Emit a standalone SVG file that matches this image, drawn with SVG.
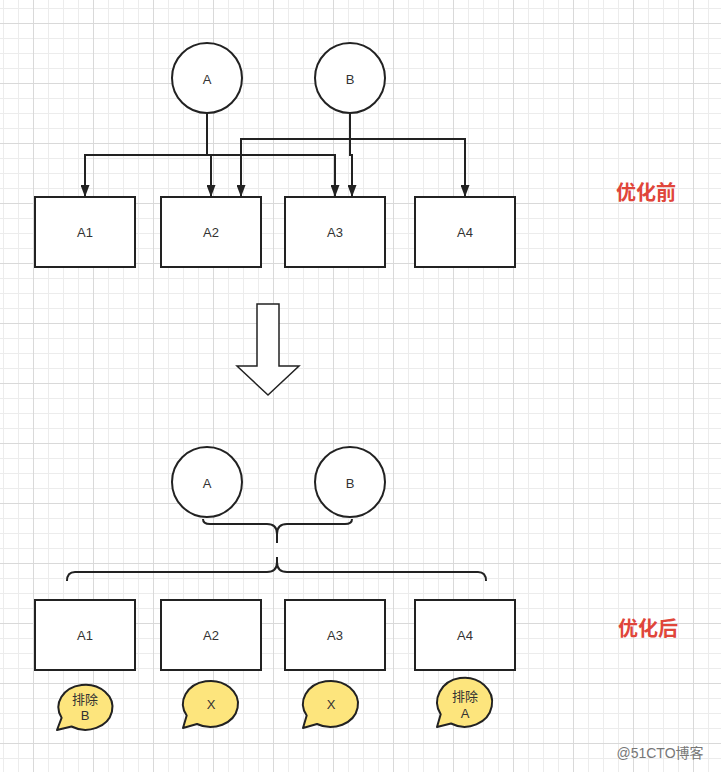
<svg xmlns="http://www.w3.org/2000/svg" width="721" height="772" viewBox="0 0 721 772">
<defs>
<pattern id="minor" x="3" y="8" width="15" height="15" patternUnits="userSpaceOnUse">
<path d="M0.5,0 V15 M0,0.5 H15" stroke="#ececec" stroke-width="1" fill="none"/>
</pattern>
<pattern id="major" x="33" y="23" width="60" height="60" patternUnits="userSpaceOnUse">
<path d="M0.5,0 V60 M0,0.5 H60" stroke="#d9d9d9" stroke-width="1" fill="none"/>
</pattern>
<marker id="arr" markerUnits="userSpaceOnUse" markerWidth="12" markerHeight="9" refX="11" refY="4.5" orient="auto">
<path d="M0,0 L12,4.5 L0,9 Z" fill="#222"/>
</marker>
<style>
.nd{fill:#fff;stroke:#222;stroke-width:2}
.lb{font-family:"Liberation Sans",Arial,sans-serif;font-size:13px;fill:#333;text-anchor:middle;dominant-baseline:central}
.cn{fill:none;stroke:#222;stroke-width:2}
.bub{fill:#fde57d;stroke:#222;stroke-width:2;stroke-linejoin:round}
.bl{font-family:"Liberation Sans","Noto Sans CJK SC",sans-serif;font-size:13px;fill:#333;text-anchor:middle;dominant-baseline:central}
.red{font-family:"Noto Sans CJK SC",sans-serif;font-size:20px;font-weight:bold;fill:#e0463a;text-anchor:middle;dominant-baseline:central}
</style>
</defs>
<rect width="721" height="772" fill="#fff"/>
<rect width="721" height="772" fill="url(#minor)"/>
<rect width="721" height="772" fill="url(#major)"/>

<g id="connectors">
<path class="cn" d="M207,113 V155 H85 V196" marker-end="url(#arr)"/>
<path class="cn" d="M207,113 V155 H211 V196" marker-end="url(#arr)"/>
<path class="cn" d="M207,155 H335 V196" marker-end="url(#arr)"/>
<path class="cn" d="M350,113 V139 H241 V196" marker-end="url(#arr)"/>
<path class="cn" d="M350,139 V155 H352 V196" marker-end="url(#arr)"/>
<path class="cn" d="M350,139 H465 V196" marker-end="url(#arr)"/>
<path class="cn" d="M203,519 Q203,524 210,524 L267,524 Q277,524 277,534 L277,543 L277,534 Q277,524 287,524 L345,524 Q352,524 352,519"/>
<path class="cn" d="M67,581 Q67,572 75,572 L267,572 Q277,572 277,562 L277,557 L277,562 Q277,572 287,572 L478,572 Q486,572 486,581"/>
</g>

<g id="topA"><circle class="nd" cx="207" cy="78" r="35"/><text class="lb" x="207" y="79">A</text></g>
<g id="topB"><circle class="nd" cx="350" cy="78" r="35"/><text class="lb" x="350" y="79">B</text></g>
<g id="topA1"><rect class="nd" x="35" y="197" width="100" height="70"/><text class="lb" x="85" y="232">A1</text></g>
<g id="topA2"><rect class="nd" x="161" y="197" width="100" height="70"/><text class="lb" x="211" y="232">A2</text></g>
<g id="topA3"><rect class="nd" x="285" y="197" width="100" height="70"/><text class="lb" x="335" y="232">A3</text></g>
<g id="topA4"><rect class="nd" x="415" y="197" width="100" height="70"/><text class="lb" x="465" y="232">A4</text></g>

<g id="bigArrow"><polygon points="257,304 279,304 279,366 299,366 268,395 237,366 257,366" fill="#fff" stroke="#222" stroke-width="1.5"/></g>

<g id="botA"><circle class="nd" cx="207" cy="482" r="35"/><text class="lb" x="207" y="483">A</text></g>
<g id="botB"><circle class="nd" cx="350" cy="482" r="35"/><text class="lb" x="350" y="483">B</text></g>
<g id="botA1"><rect class="nd" x="35" y="600" width="100" height="70"/><text class="lb" x="85" y="635">A1</text></g>
<g id="botA2"><rect class="nd" x="161" y="600" width="100" height="70"/><text class="lb" x="211" y="635">A2</text></g>
<g id="botA3"><rect class="nd" x="285" y="600" width="100" height="70"/><text class="lb" x="335" y="635">A3</text></g>
<g id="botA4"><rect class="nd" x="415" y="600" width="100" height="70"/><text class="lb" x="465" y="635">A4</text></g>

<g id="bubble1">
<path class="bub" d="M71.5,726.5 A27,22.5 0 1 0 61.6,717.8 L57,730 Z"/>
<text class="bl" x="85" y="699">排除</text><text class="bl" x="85" y="715">B</text>
</g>
<g id="bubble2">
<path class="bub" d="M197,724 A27.5,23 0 1 0 186.7,715.5 L183,728 Z"/>
<text class="bl" x="211" y="704">X</text>
</g>
<g id="bubble3">
<path class="bub" d="M317,724 A27.5,23 0 1 0 306.7,715.5 L303,728 Z"/>
<text class="bl" x="331" y="704">X</text>
</g>
<g id="bubble4">
<path class="bub" d="M451,723.5 A27.5,24.5 0 1 0 440.7,714.3 L437,727 Z"/>
<text class="bl" x="465" y="696">排除</text><text class="bl" x="465" y="713">A</text>
</g>

<text class="red" x="646" y="191">优化前</text>
<text class="red" x="648" y="627">优化后</text>
<text x="660" y="753" font-family="'Liberation Sans','Noto Sans CJK SC',sans-serif" font-size="14" fill="#777" text-anchor="middle" dominant-baseline="central">@51CTO博客</text>
</svg>
